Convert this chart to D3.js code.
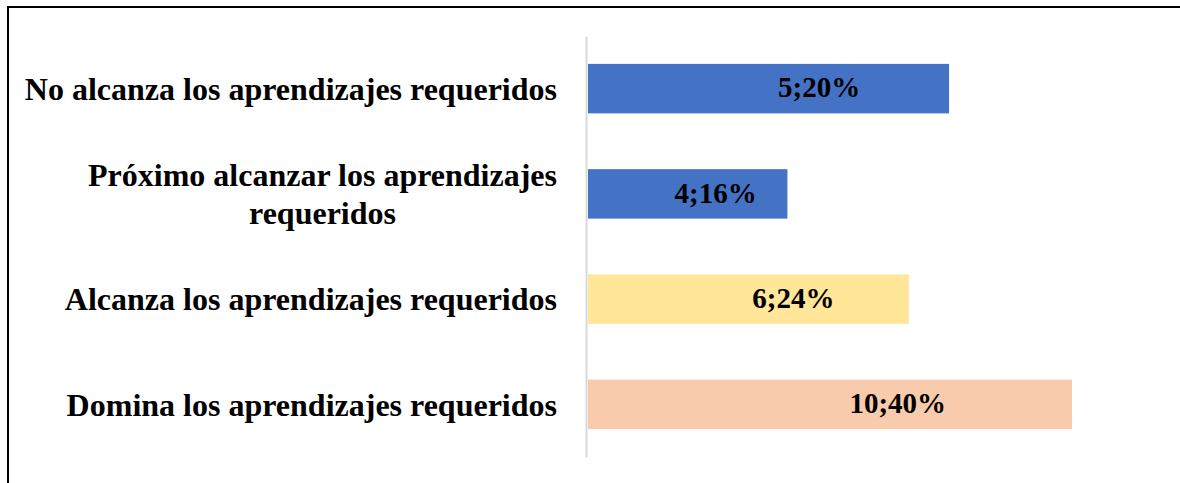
<!DOCTYPE html>
<html>
<head>
<meta charset="utf-8">
<script src="https://cdn.jsdelivr.net/npm/d3@7"></script>
<style>
  html, body { margin: 0; padding: 0; background: #fff; }
  svg { display: block; }
</style>
</head>
<body>
<div id="chart"></div>
<script>
// categories, top to bottom
var categories = [
    ["No alcanza los aprendizajes requeridos"],
    ["Próximo alcanzar los aprendizajes", "requeridos"],
    ["Alcanza los aprendizajes requeridos"],
    ["Domina los aprendizajes requeridos"]
];
// bar lengths as drawn (in the same units as the largest count)
var barValues = [7.46, 4.12, 6.63, 10];
// data label parts
var counts = [5, 4, 6, 10];
var percents = [20, 16, 24, 40];
var colors = ["#4472C4", "#4472C4", "#FFE699", "#F8CBAD"];

var W = 1180, H = 483;
var margin = { left: 588, right: 108, top: 36, bottom: 26 };
var font = "'Liberation Serif', 'Times New Roman', serif";

var svg = d3.select("#chart").append("svg")
    .attr("width", W)
    .attr("height", H);

// frame (only top and left edges visible in the crop)
svg.append("path")
    .attr("d", "M8,483V7H1180")
    .attr("fill", "none")
    .attr("stroke", "#000")
    .attr("stroke-width", 2);

var idx = d3.range(categories.length);

var y = d3.scaleBand()
    .domain(idx)
    .range([margin.top, H - margin.bottom])
    .paddingInner(0.53)
    .paddingOuter(0.265);

var x = d3.scaleLinear()
    .domain([0, d3.max(barValues)])
    .range([margin.left, W - margin.right]);

// bars
svg.append("g").selectAll("rect")
    .data(idx)
    .enter().append("rect")
    .attr("x", x(0))
    .attr("y", function (i) { return y(i); })
    .attr("width", function (i) { return x(barValues[i]) - x(0); })
    .attr("height", y.bandwidth())
    .attr("fill", function (i) { return colors[i]; });

// category axis line, no ticks
var yAxis = d3.axisLeft(y).tickSize(0).tickSizeOuter(0).tickFormat("");
var ag = svg.append("g")
    .attr("transform", "translate(" + (x(0) - 2) + ",0)")
    .call(yAxis);
ag.select(".domain").attr("stroke", "#d9d9d9").attr("stroke-width", 2);

// category labels
var labelRight = 557;
var lineH = 38.5;
var cat = svg.append("g")
    .attr("font-family", font)
    .attr("font-weight", "bold")
    .attr("font-size", 32)
    .attr("fill", "#000");
idx.forEach(function (i) {
    var lines = categories[i];
    var cy = y(i) + y.bandwidth() / 2;
    var t = cat.append("text").attr("text-anchor", "middle");
    lines.forEach(function (s, k) {
        t.append("tspan")
            .attr("y", cy + (k - (lines.length - 1) / 2) * lineH)
            .attr("dy", "0.35em")
            .text(s);
    });
    var maxW = 0;
    t.selectAll("tspan").each(function () {
        maxW = Math.max(maxW, this.getComputedTextLength());
    });
    t.selectAll("tspan").attr("x", labelRight - maxW / 2);
});

// value labels
svg.append("g").selectAll("text")
    .data(idx)
    .enter().append("text")
    .attr("x", function (i) { return x(0) + (x(barValues[i]) - x(0)) * 0.64; })
    .attr("y", function (i) { return y(i) + y.bandwidth() / 2; })
    .attr("dy", "0.3em")
    .attr("text-anchor", "middle")
    .attr("font-family", font)
    .attr("font-weight", "bold")
    .attr("font-size", 29)
    .text(function (i) { return counts[i] + ";" + percents[i] + "%"; });
</script>
</body>
</html>
